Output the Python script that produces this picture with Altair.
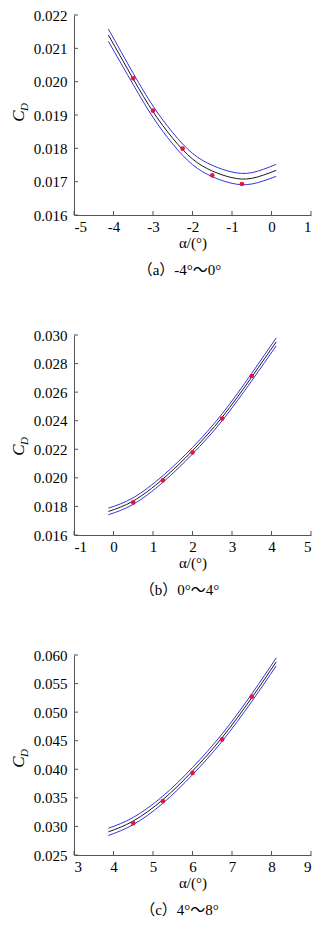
import altair as alt
import pandas as pd

# ---------------- data ----------------
# (a) -4..0 deg
a_x = [-4.13, -3.5, -3.0, -2.5, -2.0, -1.5, -1.0, -0.5, 0.12]
a_mid = [0.02140, 0.02008, 0.01910, 0.01830, 0.01768, 0.01732, 0.01712, 0.01710, 0.01734]
a_up = [0.02158, 0.02025, 0.01927, 0.01847, 0.01785, 0.01749, 0.01729, 0.01727, 0.01752]
a_lo = [0.02121, 0.01991, 0.01893, 0.01813, 0.01751, 0.01715, 0.01695, 0.01693, 0.01716]
a_px = [-3.5, -3.0, -2.25, -1.5, -0.75]
a_py = [0.02010, 0.01913, 0.01799, 0.01719, 0.01693]
a_xticks = [-5, -4, -3, -2, -1, 0, 1]
a_yticks = [0.016, 0.017, 0.018, 0.019, 0.020, 0.021, 0.022]

# (b) 0..4 deg
b_x = [-0.13, 0.5, 1.25, 2.0, 2.75, 3.5, 4.12]
b_mid = [0.01765, 0.01838, 0.01992, 0.02190, 0.02424, 0.02706, 0.02952]
b_up = [0.01788, 0.01861, 0.02015, 0.02213, 0.02448, 0.02732, 0.02980]
b_lo = [0.01742, 0.01815, 0.01969, 0.02167, 0.02400, 0.02680, 0.02924]
b_px = [0.5, 1.25, 2.0, 2.75, 3.5]
b_py = [0.01828, 0.01983, 0.02179, 0.02415, 0.02713]
b_xticks = [-1, 0, 1, 2, 3, 4, 5]
b_yticks = [0.016, 0.018, 0.020, 0.022, 0.024, 0.026, 0.028, 0.030]

# (c) 4..8 deg
c_x = [3.87, 4.5, 5.25, 6.0, 6.75, 7.5, 8.12]
c_mid = [0.02905, 0.03095, 0.03468, 0.03968, 0.04555, 0.05252, 0.05880]
c_up = [0.02968, 0.03158, 0.03531, 0.04031, 0.04619, 0.05318, 0.05950]
c_lo = [0.02842, 0.03032, 0.03405, 0.03905, 0.04491, 0.05186, 0.05810]
c_px = [4.5, 5.25, 6.0, 6.75, 7.5]
c_py = [0.03057, 0.03443, 0.03937, 0.04523, 0.05270]
c_xticks = [3, 4, 5, 6, 7, 8, 9]
c_yticks = [0.025, 0.030, 0.035, 0.040, 0.045, 0.050, 0.055, 0.060]

captions = ["（a）-4°～0°", "（b）0°～4°", "（c）4°～8°"]

# ---------------- styling ----------------
W, H = 237, 200
SERIF = "Liberation Serif, Times New Roman, DejaVu Serif, serif"
CAP_FONT = "Liberation Serif, Noto Sans CJK SC, serif"
AXIS_C = "#555555"
BLUE = "#3434dc"
BLACK = "#1a1a1a"
RED = "#e3173e"


def panel(xs, mid, up, lo, px, py, xticks, yticks, caption, cy):
    rows = []
    for name, ys in (("up", up), ("lo", lo), ("mid", mid)):
        for xv, yv in zip(xs, ys):
            rows.append({"x": xv, "y": yv, "s": name})
    lines_df = pd.DataFrame(rows)
    pts_df = pd.DataFrame({"x": px, "y": py})
    xt_df = pd.DataFrame({"x": xticks})
    yt_df = pd.DataFrame({"y": yticks})

    xscale = alt.Scale(domain=[xticks[0], xticks[-1]], nice=False, zero=False)
    yscale = alt.Scale(domain=[yticks[0], yticks[-1]], nice=False, zero=False)

    xaxis = alt.Axis(values=xticks, ticks=False, grid=False, domainColor=AXIS_C,
                     labelPadding=4, labelExpr="'' + datum.value",
                     title="α/(°)", titlePadding=1)
    yaxis = alt.Axis(values=yticks, ticks=False, grid=False, domainColor=AXIS_C,
                     labelPadding=7, format=".3f", title="")

    X = alt.X("x:Q", scale=xscale, axis=xaxis)
    Y = alt.Y("y:Q", scale=yscale, axis=yaxis)

    lines = alt.Chart(lines_df).mark_line(strokeWidth=1, interpolate="natural").encode(
        x=X, y=Y,
        color=alt.Color("s:N", scale=alt.Scale(domain=["up", "lo", "mid"],
                                               range=[BLUE, BLUE, BLACK]), legend=None),
        detail="s:N",
    )

    pts = alt.Chart(pts_df).mark_circle(size=22, color=RED, opacity=1).encode(x=X, y=Y)

    xt = alt.Chart(xt_df).mark_rule(color=AXIS_C, strokeWidth=1).encode(
        x=X, y=alt.value(H), y2=alt.value(H - 4),
    )
    yt = alt.Chart(yt_df).mark_rule(color=AXIS_C, strokeWidth=1).encode(
        y=Y, x=alt.value(0), x2=alt.value(4),
    )

    c_txt = alt.Chart(pd.DataFrame({"t": ["C"]})).mark_text(
        font=SERIF, fontStyle="italic", fontSize=17, angle=270, baseline="middle",
        align="center", color="black").encode(
        text="t:N", x=alt.value(-55), y=alt.value(cy))
    d_txt = alt.Chart(pd.DataFrame({"t": ["D"]})).mark_text(
        font=SERIF, fontStyle="italic", fontSize=11, angle=270, baseline="middle",
        align="center", color="black").encode(
        text="t:N", x=alt.value(-49), y=alt.value(cy - 9))

    return alt.layer(lines, pts, xt, yt, c_txt, d_txt).properties(
        width=W, height=H,
        title=alt.TitleParams(text=caption, orient="bottom", font=CAP_FONT,
                              fontSize=15, fontWeight="normal", color="black",
                              offset=13, dx=-13),
    )


pa = panel(a_x, a_mid, a_up, a_lo, a_px, a_py, a_xticks, a_yticks, captions[0], 101)
pb = panel(b_x, b_mid, b_up, b_lo, b_px, b_py, b_xticks, b_yticks, captions[1], 115)
pc = panel(c_x, c_mid, c_up, c_lo, c_px, c_py, c_xticks, c_yticks, captions[2], 107)

chart = alt.vconcat(pa, pb, pc, spacing=50).properties(
    padding={"left": 2, "top": 0, "right": 5, "bottom": 0}
).configure(background="white").configure_view(stroke=None).configure_axis(
    labelFont=SERIF, labelFontSize=15, labelColor="black",
    titleFont=SERIF, titleFontSize=15, titleFontWeight="normal", titleColor="black",
)

chart.save("out.html", embed_options={"renderer": "svg", "actions": False})
